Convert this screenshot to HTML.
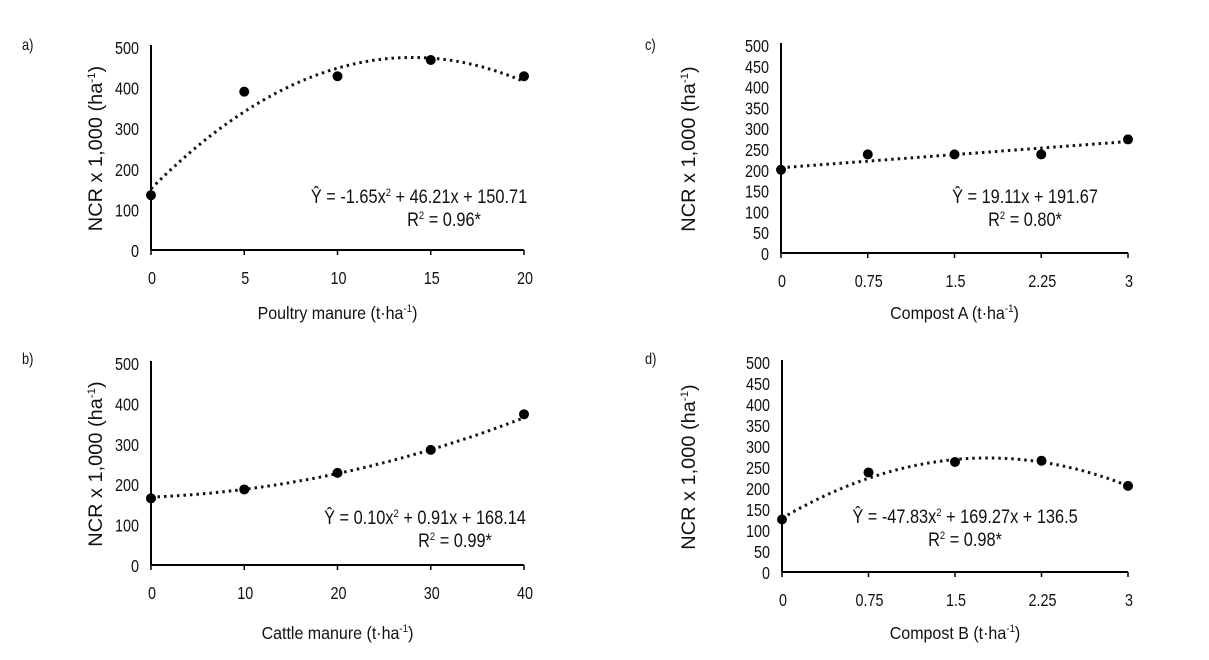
<!DOCTYPE html>
<html><head><meta charset="utf-8"><style>
html,body{margin:0;padding:0;background:#fff;}
svg{display:block;}
text{font-family:"Liberation Sans Narrow","Liberation Sans",sans-serif;fill:#111;}
</style></head><body>
<svg id="s" width="1209" height="660" xmlns="http://www.w3.org/2000/svg"></svg>
<script>
const s=document.getElementById('s');let h='';
function T(x,y,t,o){o=o||{};const rot=o.rot?' rotate(-90)':'';const sx=o.sx||0.8;
 h+=`<text transform="translate(${x} ${y})${rot} scale(${sx} 1)" x="0" y="0" font-size="${o.fs||17}" text-anchor="${o.a||'middle'}">${t}</text>`;}
function panel(p){
 const X=v=>p.x0+(v-p.xmin)/(p.xmax-p.xmin)*(p.x1-p.x0);
 const Y=v=>p.y0-v/500*(p.y0-p.ytop);
 h+=`<line x1="${p.x0}" y1="${p.y0}" x2="${p.x0}" y2="${p.ytop-2}" stroke="#000" stroke-width="2"/>`;
 h+=`<line x1="${p.x0}" y1="${p.y0}" x2="${p.x1}" y2="${p.y0}" stroke="#000" stroke-width="2"/>`;
 p.xt.forEach((v,i)=>{const x=X(v);h+=`<line x1="${x}" y1="${p.y0}" x2="${x}" y2="${p.y0+5}" stroke="#000" stroke-width="1.5"/>`;T(x+1,p.y0+34,p.xl[i],{fs:18});});
 for(let v=0;v<=500;v+=p.ys){T(p.x0-12,Y(v)+7,v,{fs:18,a:'end'});}
 let d='';for(let i=0;i<=100;i++){const xv=p.xmin+(p.xmax-p.xmin)*i/100;d+=(i?'L':'M')+X(xv).toFixed(1)+','+Y(p.f(xv)).toFixed(1);}
 h+=`<path d="${d}" fill="none" stroke="#111" stroke-width="3" stroke-dasharray="2.5,4"/>`;
 p.pts.forEach(q=>{h+=`<circle cx="${X(q[0])}" cy="${Y(q[1])}" r="5" fill="#000"/>`;});
 T(p.lx,p.ly,p.lab,{fs:16,a:'start'});
 T(p.ax,(p.y0+p.ytop)/2,'NCR x 1,000 (ha<tspan font-size="11" dy="-7">-1</tspan><tspan dy="7">)</tspan>',{fs:19,rot:1,sx:1.05});
 T((p.x0+p.x1)/2,p.xly,p.xlab+' (t·ha<tspan font-size="11" dy="-7">-1</tspan><tspan dy="7">)</tspan>',{fs:18,sx:0.89});
 T(p.ex,p.ey,p.eq,{fs:19,sx:0.86});
 T(p.ex+p.rdx,p.ey+23,'R<tspan font-size="11" dy="-7">2</tspan><tspan dy="7"> = '+p.r2+'</tspan>',{fs:19,sx:0.86});
}
const pw='<tspan font-size="11" dy="-7">2</tspan><tspan dy="7">';
panel({x0:151,x1:524,xmin:0,xmax:20,y0:250,ytop:47,ys:100,xt:[0,5,10,15,20],xl:['0','5','10','15','20'],
 f:x=>-1.65*x*x+46.21*x+150.71,pts:[[0,135],[5,390],[10,428],[15,468],[20,428]],lab:'a)',lx:22,ly:50,ax:102,
 xlab:'Poultry manure',xly:319,ex:419,ey:203,eq:'Ŷ = -1.65x'+pw+' + 46.21x + 150.71</tspan>',rdx:25,r2:'0.96*'});
panel({x0:151,x1:524,xmin:0,xmax:40,y0:565,ytop:363,ys:100,xt:[0,10,20,30,40],xl:['0','10','20','30','40'],
 f:x=>0.10*x*x+0.91*x+168.14,pts:[[0,165],[10,187],[20,228],[30,285],[40,373]],lab:'b)',lx:22,ly:364,ax:102,
 xlab:'Cattle manure',xly:639,ex:425,ey:524,eq:'Ŷ = 0.10x'+pw+' + 0.91x + 168.14</tspan>',rdx:30,r2:'0.99*'});
panel({x0:781,x1:1128,xmin:0,xmax:3,y0:253,ytop:45,ys:50,xt:[0,0.75,1.5,2.25,3],xl:['0','0.75','1.5','2.25','3'],
 f:x=>205+21*x,pts:[[0,200],[0.75,237],[1.5,237],[2.25,237],[3,273]],lab:'c)',lx:645,ly:50,ax:695,
 xlab:'Compost A',xly:319,ex:1025,ey:203,eq:'Ŷ = 19.11x + 191.67',rdx:0,r2:'0.80*'});
panel({x0:782,x1:1128,xmin:0,xmax:3,y0:572,ytop:362,ys:50,xt:[0,0.75,1.5,2.25,3],xl:['0','0.75','1.5','2.25','3'],
 f:x=>-45*x*x+160.7*x+128,pts:[[0,125],[0.75,237],[1.5,262],[2.25,265],[3,205]],lab:'d)',lx:645,ly:364,ax:695,
 xlab:'Compost B',xly:639,ex:965,ey:523,eq:'Ŷ = -47.83x'+pw+' + 169.27x + 136.5</tspan>',rdx:0,r2:'0.98*'});
s.innerHTML=h;
</script>
</body></html>
